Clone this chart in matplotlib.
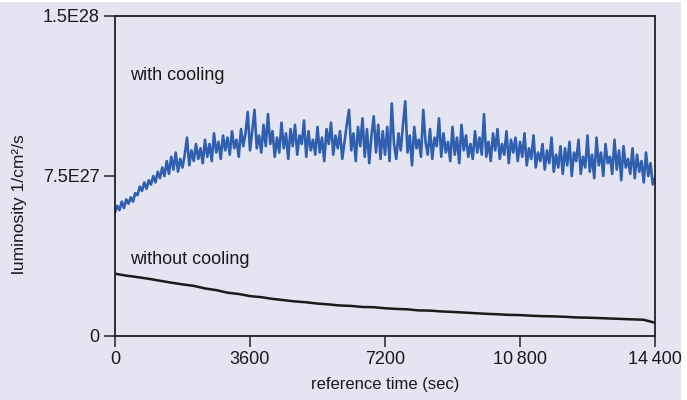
import numpy as np
import matplotlib
matplotlib.use("Agg")
import matplotlib.pyplot as plt
from matplotlib.patches import Rectangle

# luminosity with cooling (units of 1E27), one sample every 60 s
blue = [
    5.8, 6.1, 5.9, 6.3, 6.0, 6.4, 6.2, 6.5, 6.3, 6.7,
    6.6, 7.0, 6.8, 7.2, 6.9, 7.3, 7.1, 7.5, 7.2, 7.7,
    7.4, 7.9, 7.5, 8.2, 7.6, 8.4, 7.8, 8.6, 7.7, 8.3,
    7.9, 8.5, 9.3, 8.0, 8.7, 8.2, 9.0, 8.3, 8.8, 8.1,
    9.2, 8.4, 9.0, 8.2, 9.5, 8.6, 9.1, 8.3, 9.4, 8.7,
    9.3, 8.5, 9.6, 8.8, 9.2, 8.4, 9.7, 8.9, 9.5, 10.5,
    8.7, 9.6, 10.6, 8.8, 9.4, 8.6, 9.9, 8.9, 10.4, 9.0,
    9.6, 8.4, 9.3, 8.6, 10.0, 8.8, 9.5, 8.3, 9.7, 8.9,
    9.9, 8.5, 9.4, 9.0, 10.1, 8.4, 9.6, 8.7, 9.2, 8.5,
    9.8, 8.6, 9.3, 8.2, 9.7, 9.0, 10.0, 8.5, 9.4, 8.8,
    9.6, 8.3, 9.1, 9.9, 10.6, 8.7, 9.5, 8.2, 9.8, 8.9,
    10.2, 8.4, 9.7, 8.1, 9.4, 10.3, 8.6, 9.9, 8.3, 9.6,
    8.5, 9.8, 8.2, 10.9, 9.0, 8.3, 9.5, 8.7, 9.9, 11.0,
    8.6, 9.4, 8.0, 9.8, 8.8, 9.2, 8.4, 10.6, 9.1, 8.5,
    9.7, 8.3, 9.3, 8.9, 10.2, 8.4, 9.5, 8.6, 9.1, 8.2,
    9.8, 8.5, 9.3, 8.1, 9.9, 8.7, 9.4, 8.4, 9.0, 8.3,
    9.6, 8.6, 9.3, 8.5, 10.4, 8.4, 9.1, 8.2, 9.5, 8.7,
    9.7, 8.3, 9.0, 8.5, 9.6, 8.1, 9.2, 8.6, 9.3, 8.2,
    9.1, 8.4, 9.5, 8.0, 8.8, 8.3, 9.4, 7.9, 8.6, 8.2,
    9.0, 7.8, 8.7, 8.1, 9.3, 7.7, 8.5, 7.9, 8.9, 7.6,
    8.8, 8.0, 9.1, 7.5, 8.6, 8.2, 9.2, 7.6, 8.4, 7.9,
    9.4, 7.7, 8.5, 7.4, 9.3, 8.0, 8.6, 7.5, 9.0, 8.1,
    8.4, 7.6, 9.2, 7.8, 8.7, 7.3, 8.9, 7.9, 8.3, 7.6,
    8.8, 7.4, 8.5, 7.7, 8.2, 7.2, 8.6, 7.5, 8.1, 7.1,
    7.4,
]
blue_step = 60

# luminosity without cooling (units of 1E27), one sample every 300 s
black = [
    2.92, 2.83, 2.76, 2.68, 2.59, 2.50, 2.42, 2.35, 2.23, 2.15,
    2.03, 1.97, 1.87, 1.82, 1.74, 1.68, 1.62, 1.58, 1.52, 1.48,
    1.43, 1.41, 1.36, 1.35, 1.30, 1.27, 1.25, 1.20, 1.19, 1.15,
    1.13, 1.10, 1.07, 1.04, 1.02, 0.99, 0.98, 0.95, 0.93, 0.92,
    0.90, 0.87, 0.86, 0.84, 0.82, 0.80, 0.78, 0.76, 0.62,
]
black_step = 300

x_ticks = [0, 3600, 7200, 10800, 14400]
x_labels = ["0", "3600", "7200", "10\u2009800", "14\u2009400"]
y_ticks = [0, 7.5e27, 1.5e28]
y_labels = ["0", "7.5E27", "1.5E28"]

plt.rcParams['font.family'] = ['Liberation Sans', 'DejaVu Sans']
bg = '#e4e5f1'
W, H = 687, 400

fig = plt.figure(figsize=(W / 100, H / 100), dpi=100, facecolor='white')
fig.patches.append(Rectangle((0, 0), 681 / W, 398 / H, transform=fig.transFigure,
                             facecolor=bg, edgecolor='none', zorder=-10))
ax = fig.add_axes([115 / W, 1 - 336 / H, 540 / W, 320 / H])
ax.set_facecolor(bg)

t_blue = np.arange(len(blue)) * blue_step
t_black = np.arange(len(black)) * black_step
ax.plot(t_blue, np.array(blue) * 1e27, color='#2f5fae', lw=1.9)
ax.plot(t_black, np.array(black) * 1e27, color='#1a1a1a', lw=1.8)

ax.set_xlim(0, 14400)
ax.set_ylim(0, 1.5e28)
ax.set_xticks(x_ticks)
ax.set_xticklabels(x_labels)
ax.set_yticks(y_ticks)
ax.set_yticklabels(y_labels)
ax.tick_params(direction='out', length=8, width=1.1, color='#222222',
               labelsize=13, pad=3, labelcolor='#1a1a1a')
for s in ax.spines.values():
    s.set_color('#222222')
    s.set_linewidth(1.3)

ax.text(400, 12.23e27, "with cooling", fontsize=13, va='center', ha='left', color='#1a1a1a')
ax.text(400, 3.6e27, "without cooling", fontsize=13, va='center', ha='left', color='#1a1a1a')

fig.text(20 / W, 1 - 204 / H, "luminosity 1/cm\u00b2/s", rotation=90, fontsize=12.5,
         ha='center', va='center', color='#1a1a1a')
fig.text(385 / W, 1 - 384 / H, "reference time (sec)", fontsize=12,
         ha='center', va='center', color='#1a1a1a')

fig.savefig("out.png", dpi=100, facecolor='white')
